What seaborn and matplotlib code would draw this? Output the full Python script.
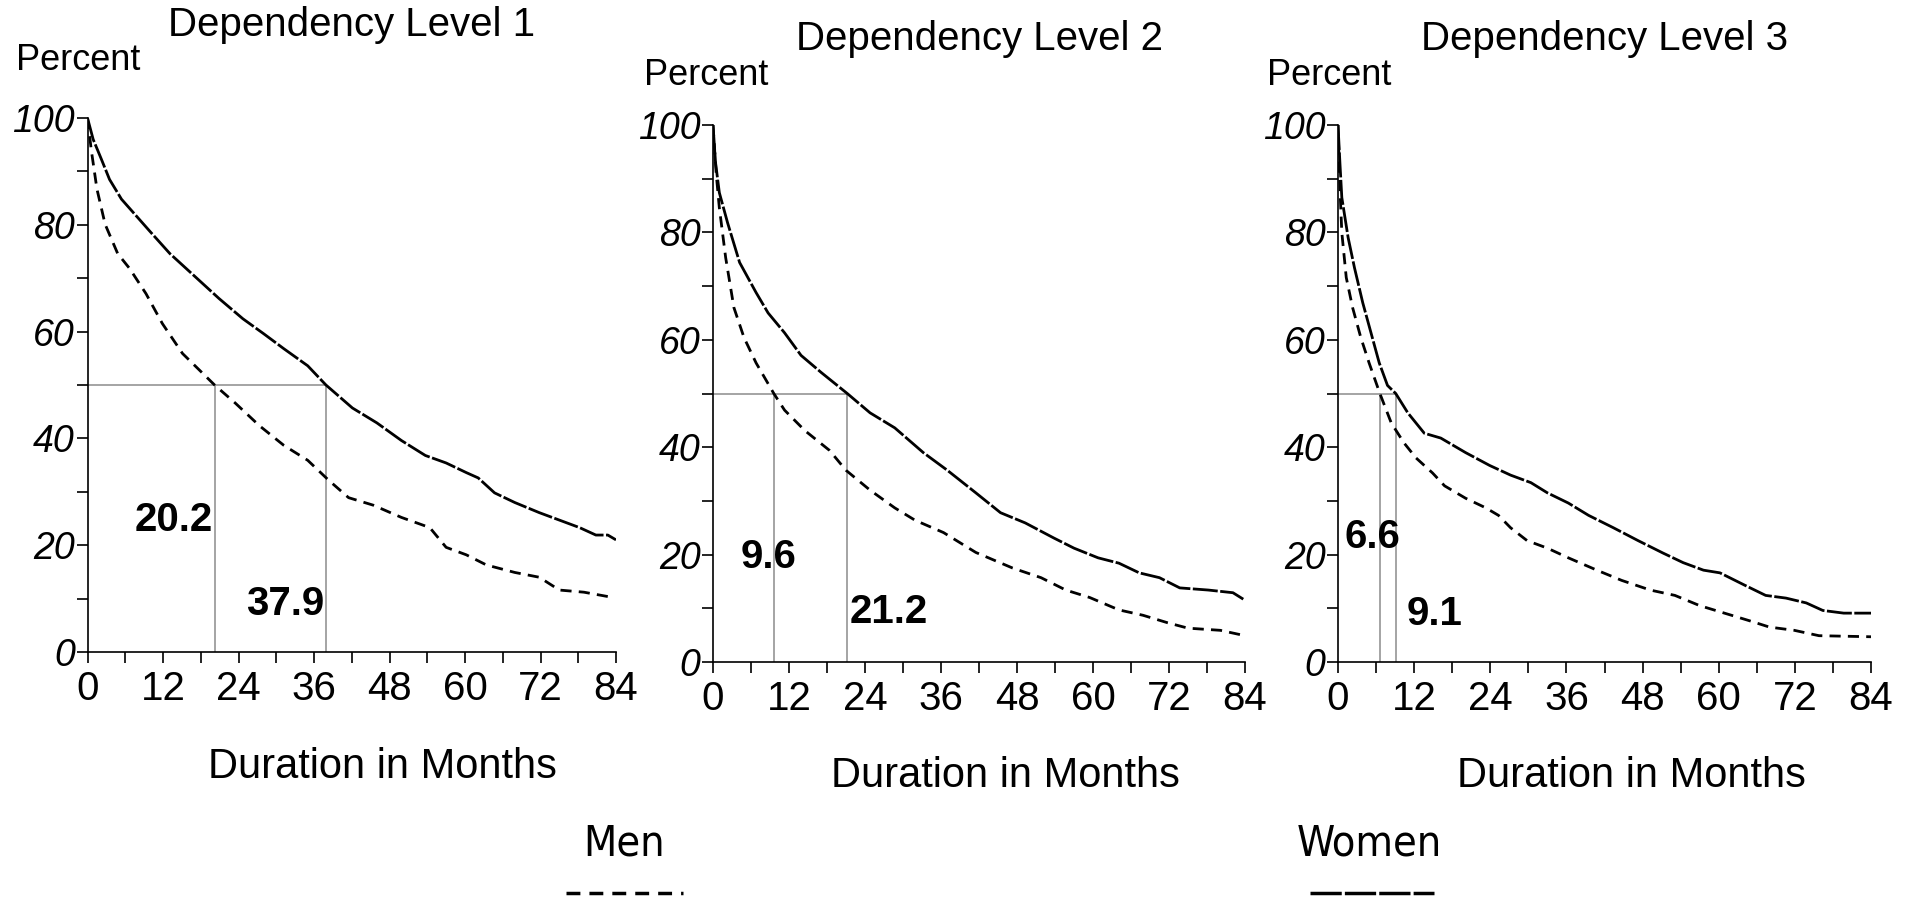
import numpy as np
import pandas as pd
import matplotlib
matplotlib.use("Agg")
import matplotlib.pyplot as plt
import seaborn as sns
from matplotlib.lines import Line2D
from matplotlib.ticker import MultipleLocator

# ---------------- data ----------------
titles = ["Dependency Level 1", "Dependency Level 2", "Dependency Level 3"]
medians_men = [20.2, 9.6, 6.6]
medians_women = [37.9, 21.2, 9.1]
median_labels_men = ["20.2", "9.6", "6.6"]
median_labels_women = ["37.9", "21.2", "9.1"]

l1_women_m = [0, 0.9, 2.2, 3.5, 5.4, 9.9, 13.1, 18.3, 20.9, 24.7, 28, 31.2, 35, 37.9, 42.1, 46, 49.9,
              53.7, 57, 60.2, 62.1, 64.7, 67.9, 71.8, 75, 78.2, 80.8, 82.7, 84]
l1_women_p = [100, 96, 92.3, 88.5, 84.8, 78.8, 74.6, 69, 66.2, 62.4, 59.6, 56.8, 53.6, 50, 45.7, 42.9, 39.6,
              36.8, 35.4, 33.6, 32.6, 29.8, 28, 26.1, 24.7, 23.3, 21.9, 21.9, 21]
l1_men_m = [0, 0.6, 1.5, 2.8, 4.8, 6.7, 9.3, 11.9, 15.1, 18.3, 20.2, 23.5, 27.3, 31.2, 35, 38.3, 41.5,
            45.4, 49.9, 54.4, 57, 60.2, 63.4, 67.9, 71.8, 75, 78.9, 83.1]
l1_men_p = [100, 94, 86.7, 80.1, 74.6, 71.8, 67.1, 61.5, 55.9, 52.2, 50, 46.6, 42.4, 38.7, 35.9, 32.2, 28.9,
            27.5, 25.2, 23.3, 19.6, 18.2, 16.3, 14.9, 14, 11.6, 11.2, 10.3]

l2_women_m = [0, 0.4, 1.0, 2.3, 4.2, 6.8, 8.7, 11.3, 13.9, 17.1, 21.2, 24.8, 28.7, 33.2, 37, 41.5, 45.4,
              49.3, 53.8, 57, 60.8, 64.1, 67.3, 70.5, 73.7, 78.2, 82.1, 84]
l2_women_p = [100, 93, 87.4, 81.8, 74.4, 68.8, 65, 61.3, 57.1, 53.9, 50, 46.4, 43.6, 39, 35.7, 31.5, 27.8,
              25.9, 23.1, 21.2, 19.4, 18.4, 16.6, 15.7, 13.8, 13.4, 12.9, 11.5]
l2_men_m = [0, 0.5, 1.0, 2.0, 3.3, 4.9, 6.8, 9.6, 11.3, 14.5, 18.4, 21, 24.8, 28.7, 31.9, 36.4, 41.5,
            47.3, 51.8, 55.7, 59.5, 64.1, 67.9, 71.8, 75, 80.1, 84]
l2_men_p = [100, 91, 84.6, 75.3, 66, 60.4, 55.7, 50, 46.9, 43.1, 39.4, 35.7, 32, 28.7, 26.4, 24.1, 20.4,
            17.5, 15.7, 13.4, 12, 9.7, 8.7, 7.3, 6.3, 5.9, 4.9]

l3_women_m = [0, 0.3, 0.6, 1.6, 2.6, 3.9, 5.2, 6.5, 7.8, 9.1, 11, 13.6, 16.2, 20.1, 23.9, 27.2, 30.4, 33,
              36.3, 39.5, 43.4, 47.3, 51.2, 54.4, 57.6, 60.2, 64.1, 67.4, 70.6, 73.8, 76.4, 79.7, 84]
l3_women_p = [100, 93, 86.5, 79, 73.4, 66.9, 61.3, 55.7, 51.5, 50, 46.4, 42.6, 41.7, 39, 36.6, 34.8, 33.4,
              31.5, 29.6, 27.3, 25, 22.6, 20.3, 18.5, 17.1, 16.6, 14.3, 12.4, 11.9, 11, 9.6, 9.1, 9.1]
l3_men_m = [0, 0.3, 0.6, 1.3, 2.3, 3.6, 4.9, 6.6, 8.4, 10.4, 12.3, 14.9, 16.8, 20.1, 23.3, 25.3, 27.2,
            29.8, 33, 36.3, 40.8, 44.7, 49.2, 53.1, 57, 60.9, 64.8, 68, 71.9, 75.8, 84]
l3_men_p = [100, 88.4, 80, 71.6, 66, 60.4, 55.7, 50, 44.5, 40.8, 38, 35.2, 32.8, 30.5, 28.7, 27.3, 25,
            22.6, 21.2, 19.4, 17.1, 15.2, 13.4, 12.4, 10.5, 9.1, 7.7, 6.5, 5.9, 4.9, 4.7]

x_ticks = [0, 12, 24, 36, 48, 60, 72, 84]
y_ticks = [0, 20, 40, 60, 80, 100]

# ---------------- build long table ----------------
frames = []
series = [
    (1, "Men", l1_men_m, l1_men_p), (1, "Women", l1_women_m, l1_women_p),
    (2, "Men", l2_men_m, l2_men_p), (2, "Women", l2_women_m, l2_women_p),
    (3, "Men", l3_men_m, l3_men_p), (3, "Women", l3_women_m, l3_women_p),
]
for lvl, sex, m, p in series:
    frames.append(pd.DataFrame({"level": lvl, "sex": sex, "month": m, "percent": p}))
df = pd.concat(frames, ignore_index=True)

# ---------------- style ----------------
sns.set_theme(style="ticks")
plt.rcParams["font.family"] = ["Liberation Sans", "DejaVu Sans"]
for k in ["text.color", "axes.labelcolor", "xtick.color", "ytick.color", "axes.edgecolor"]:
    plt.rcParams[k] = "black"

W, H = 1905, 898
fig = plt.figure(figsize=(W / 100, H / 100), dpi=100)
fig.patch.set_facecolor("white")

# axes boxes in pixels (left, right, top, bottom)
boxes = [(87.5, 616, 118, 652), (713, 1245, 125, 662), (1338, 1871, 125, 662)]
men_dash = (4.0, 2.6)
women_dash = (9.0, 0.9)
annot = [
    ((19.9, 24.7, "right"), (37.6, 9.0, "right")),
    ((8.8, 19.6, "center"), (21.6, 9.3, "left")),
    ((5.4, 23.3, "center"), (10.8, 8.9, "left")),
]
percent_pos = [(-0.135, 1.107), (-0.13, 1.093), (-0.133, 1.093)]
title_y = [1.175, 1.16, 1.16]
xlabel_pos = [(0.559, -0.215), (0.549, -0.212), (0.55, -0.212)]

grey = "#8c8c8c"
for i, (l, r, t, b) in enumerate(boxes):
    ax = fig.add_axes([l / W, (H - b) / H, (r - l) / W, (b - t) / H])
    ax.set_facecolor("white")
    sub = df[df["level"] == i + 1]
    sns.lineplot(data=sub, x="month", y="percent", style="sex",
                 dashes={"Men": men_dash, "Women": women_dash},
                 color="black", linewidth=2.0, ax=ax, legend=False,
                 estimator=None, sort=True)
    # median guide lines
    mm, mw = medians_men[i], medians_women[i]
    ax.plot([0, max(mm, mw)], [50, 50], color=grey, lw=1.1, zorder=1)
    ax.plot([mm, mm], [0, 50], color=grey, lw=1.1, zorder=1)
    ax.plot([mw, mw], [0, 50], color=grey, lw=1.1, zorder=1)

    (x1, y1, h1), (x2, y2, h2) = annot[i]
    ax.text(x1, y1, median_labels_men[i], ha=h1, va="center", fontsize=29, fontweight="bold")
    ax.text(x2, y2, median_labels_women[i], ha=h2, va="center", fontsize=29, fontweight="bold")

    ax.set_xlim(0, 84)
    ax.set_ylim(0, 100)
    ax.set_xticks(x_ticks)
    ax.xaxis.set_minor_locator(MultipleLocator(6))
    ax.set_yticks(y_ticks)
    ax.yaxis.set_minor_locator(MultipleLocator(10))
    ax.tick_params(axis="both", which="both", direction="out", length=8, width=1.2, color="black")
    ax.tick_params(axis="x", labelsize=29, pad=5)
    ax.tick_params(axis="y", labelsize=27, pad=1)
    for lab in ax.get_yticklabels():
        lab.set_fontstyle("italic")
    for s in ["top", "right"]:
        ax.spines[s].set_visible(False)
    for s in ["left", "bottom"]:
        ax.spines[s].set_color("black")
        ax.spines[s].set_linewidth(1.2)
    ax.set_ylabel("")
    ax.set_xlabel("Duration in Months", fontsize=30)
    ax.xaxis.label.set_va("center")
    ax.xaxis.set_label_coords(*xlabel_pos[i])
    ax.text(percent_pos[i][0], percent_pos[i][1], "Percent", transform=ax.transAxes,
            ha="left", va="center", fontsize=26)
    ax.text(0.5, title_y[i], titles[i], transform=ax.transAxes,
            ha="center", va="center", fontsize=29)

# legend (label above line sample)
fig.text(624 / W, 1 - 843 / H, "Men", ha="center", va="center", fontsize=31,
         family=["DejaVu Sans"], fontstretch="condensed")
fig.text(1369 / W, 1 - 843 / H, "Women", ha="center", va="center", fontsize=31,
         family=["DejaVu Sans"], fontstretch="condensed")
ly = 1 - 893 / H
fig.add_artist(Line2D([566 / W, 683 / W], [ly, ly], color="black", lw=2.5,
                      dashes=(4.0, 2.6), transform=fig.transFigure))
fig.add_artist(Line2D([1310 / W, 1434 / W], [ly, ly], color="black", lw=2.5,
                      dashes=(9.0, 0.9), transform=fig.transFigure))

fig.savefig("out.png", dpi=100, facecolor="white")
